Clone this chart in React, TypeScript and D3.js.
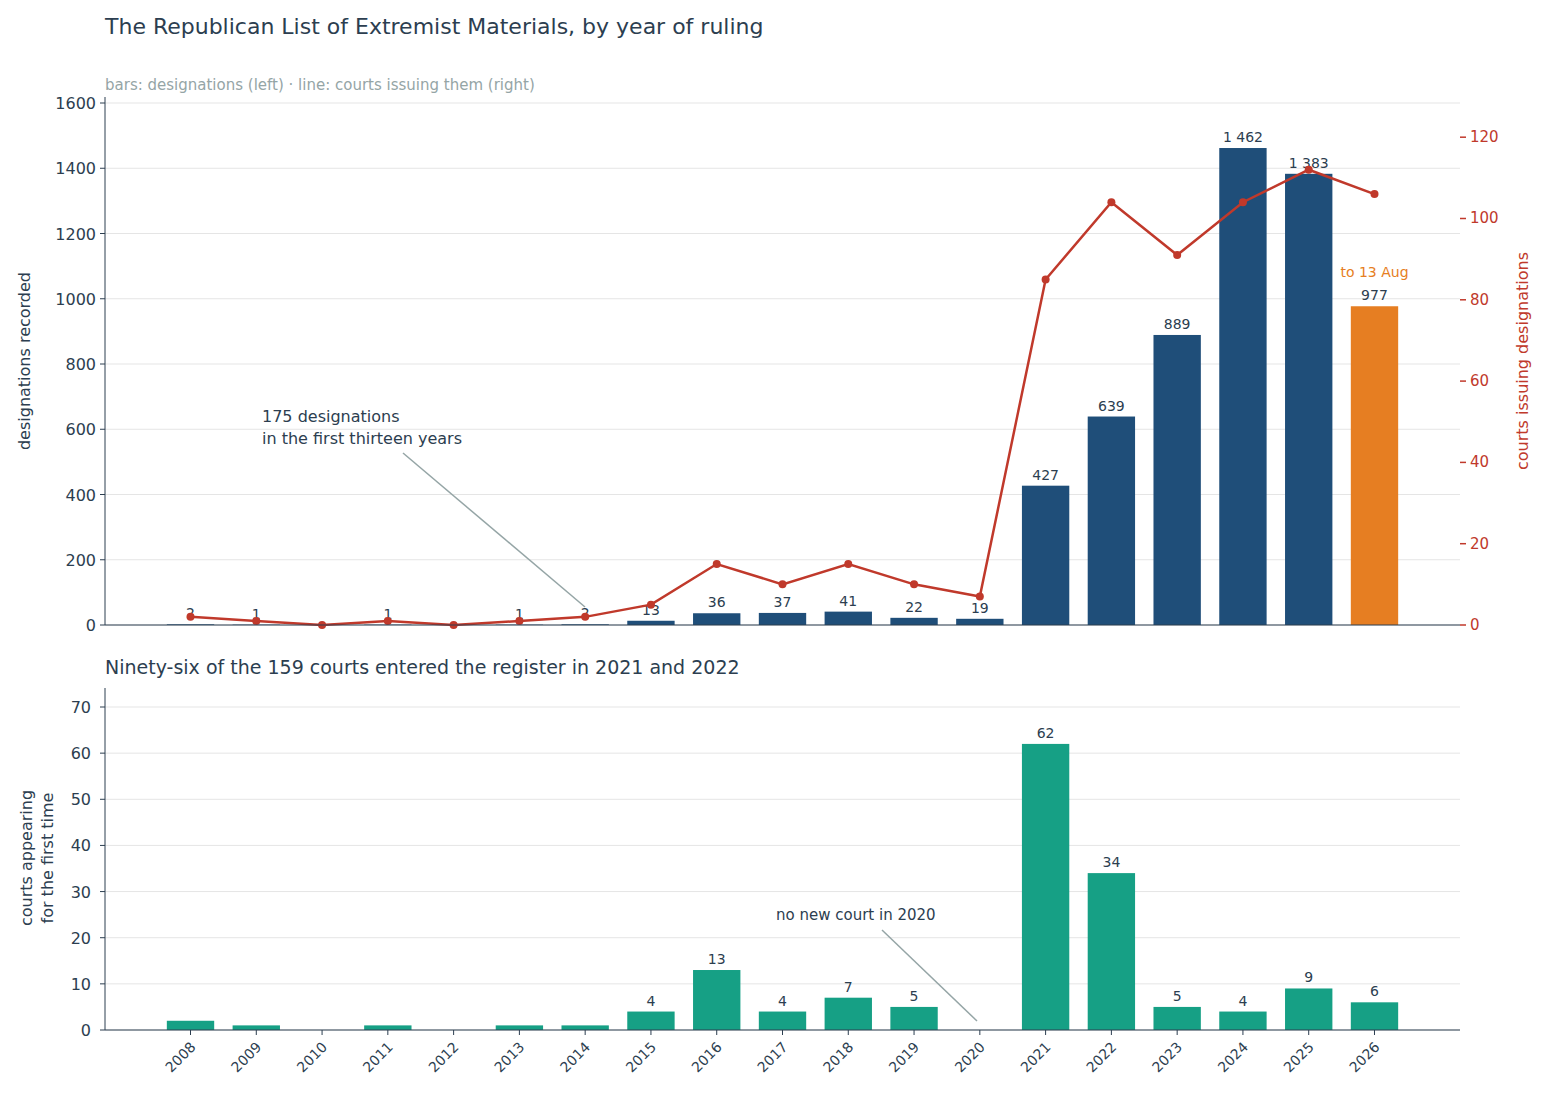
import React from "react";
import * as d3 from "d3";

const years = [2008, 2009, 2010, 2011, 2012, 2013, 2014, 2015, 2016, 2017, 2018, 2019, 2020, 2021, 2022, 2023, 2024, 2025, 2026];
const designations = [2, 1, 0, 1, 0, 1, 2, 13, 36, 37, 41, 22, 19, 427, 639, 889, 1462, 1383, 977];
const courts = [2, 1, 0, 1, 0, 1, 2, 5, 15, 10, 15, 10, 7, 85, 104, 91, 104, 112, 106];
const newCourts = [2, 1, 0, 1, 0, 1, 1, 4, 13, 4, 7, 5, 0, 62, 34, 5, 4, 9, 6];
const leftTicks = [0, 200, 400, 600, 800, 1000, 1200, 1400, 1600];
const rightTicks = [0, 20, 40, 60, 80, 100, 120];
const bottomTicks = [0, 10, 20, 30, 40, 50, 60, 70];

const TEXT = "#2c3e50";
const GRAY = "#95a5a6";
const NAVY = "#1f4e79";
const ORANGE = "#e67e22";
const RED = "#c0392b";
const TEAL = "#16a085";
const GRID = "#e5e5e5";
const FONT = "DejaVu Sans, sans-serif";

const fmt = (v: number) => (v >= 1000 ? d3.format(",")(v).replace(",", " ") : String(v));

export default function App() {
  const W = 1547, H = 1102;
  const L = 105, R = 1460;
  const x = d3.scaleBand<number>().domain(years).range([L, R]).paddingInner(0.28).paddingOuter(0.94);
  const cx = (y: number) => (x(y) as number) + x.bandwidth() / 2;

  const yT = d3.scaleLinear().domain([0, 1600]).range([625, 103]);
  const yR = d3.scaleLinear().domain([0, 1600 / 12.46]).range([625, 103]);
  const yB = d3.scaleLinear().domain([0, 70]).range([1030, 707]);

  const line = d3.line<number>().x((_, i) => cx(years[i])).y((d) => yR(d));

  return (
    <svg width={W} height={H} style={{ position: "absolute", left: 0, top: 0 }} fontFamily={FONT}>
      <text x={105} y={34} fontSize={22} fill={TEXT}>The Republican List of Extremist Materials, by year of ruling</text>
      <text x={105} y={90} fontSize={15} fill={GRAY}>bars: designations (left)   ·   line: courts issuing them (right)</text>

      {/* top grid */}
      {leftTicks.map((t) => (
        <line key={"g" + t} x1={L} x2={R} y1={yT(t)} y2={yT(t)} stroke={GRID} />
      ))}
      {years.map((yr, i) => (
        <rect key={"b" + yr} x={x(yr)} width={x.bandwidth()} y={yT(designations[i])}
          height={yT(0) - yT(designations[i])} fill={yr === 2026 ? ORANGE : NAVY} />
      ))}
      {years.map((yr, i) => designations[i] > 0 ? (
        <text key={"l" + yr} x={cx(yr)} y={yT(designations[i]) - 6} fontSize={14} fill={TEXT} textAnchor="middle">{fmt(designations[i])}</text>
      ) : null)}
      <text x={cx(2026)} y={yT(977) - 29} fontSize={14} fill={ORANGE} textAnchor="middle">to 13 Aug</text>
      <path d={line(courts) || ""} fill="none" stroke={RED} strokeWidth={2.5} />
      {courts.map((c, i) => <circle key={"c" + i} cx={cx(years[i])} cy={yR(c)} r={4} fill={RED} />)}

      {/* left axis */}
      <line x1={L} x2={L} y1={97} y2={625} stroke={TEXT} />
      <line x1={L} x2={R} y1={625} y2={625} stroke={TEXT} />
      {leftTicks.map((t) => (
        <g key={"lt" + t}>
          <line x1={L - 5} x2={L} y1={yT(t)} y2={yT(t)} stroke={TEXT} />
          <text x={L - 9} y={yT(t) + 6} fontSize={16} fill={TEXT} textAnchor="end">{t}</text>
        </g>
      ))}
      <text transform={`translate(30,361) rotate(-90)`} fontSize={16} fill={TEXT} textAnchor="middle">designations recorded</text>
      {rightTicks.map((t) => (
        <g key={"rt" + t}>
          <line x1={R} x2={R + 6} y1={yR(t)} y2={yR(t)} stroke={RED} strokeWidth={1.5} />
          <text x={R + 10} y={yR(t) + 5} fontSize={15} fill={RED}>{t}</text>
        </g>
      ))}
      <text transform={`translate(1528,361) rotate(-90)`} fontSize={16} fill={RED} textAnchor="middle">courts issuing designations</text>

      <text x={262} y={422} fontSize={16} fill={TEXT}>175 designations</text>
      <text x={262} y={444} fontSize={16} fill={TEXT}>in the first thirteen years</text>
      <line x1={403} y1={453} x2={585} y2={607} stroke={GRAY} strokeWidth={1.5} />

      {/* bottom */}
      <text x={105} y={674} fontSize={19} fill={TEXT}>Ninety-six of the 159 courts entered the register in 2021 and 2022</text>
      {bottomTicks.map((t) => (
        <line key={"bg" + t} x1={L} x2={R} y1={yB(t)} y2={yB(t)} stroke={GRID} />
      ))}
      {years.map((yr, i) => (
        <rect key={"nb" + yr} x={x(yr)} width={x.bandwidth()} y={yB(newCourts[i])}
          height={yB(0) - yB(newCourts[i])} fill={TEAL} />
      ))}
      {years.map((yr, i) => yr >= 2015 && newCourts[i] > 0 ? (
        <text key={"nl" + yr} x={cx(yr)} y={yB(newCourts[i]) - 6} fontSize={14} fill={TEXT} textAnchor="middle">{newCourts[i]}</text>
      ) : null)}
      <line x1={L} x2={L} y1={688} y2={1030} stroke={TEXT} />
      <line x1={L} x2={R} y1={1030} y2={1030} stroke={TEXT} />
      {bottomTicks.map((t) => (
        <g key={"bt" + t}>
          <line x1={L - 5} x2={L} y1={yB(t)} y2={yB(t)} stroke={TEXT} />
          <text x={L - 14} y={yB(t) + 6} fontSize={16} fill={TEXT} textAnchor="end">{t}</text>
        </g>
      ))}
      <text transform={`translate(32,858) rotate(-90)`} fontSize={16} fill={TEXT} textAnchor="middle">courts appearing</text>
      <text transform={`translate(53,858) rotate(-90)`} fontSize={16} fill={TEXT} textAnchor="middle">for the first time</text>
      {years.map((yr) => (
        <g key={"xt" + yr}>
          <line x1={cx(yr)} x2={cx(yr)} y1={1030} y2={1035} stroke={TEXT} />
          <text transform={`translate(${cx(yr) + 6},1048) rotate(-45)`} fontSize={14} fill={TEXT} textAnchor="end">{yr}</text>
        </g>
      ))}
      <text x={776} y={920} fontSize={15} fill={TEXT}>no new court in 2020</text>
      <line x1={882} y1={930} x2={977} y2={1021} stroke={GRAY} strokeWidth={1.5} />
    </svg>
  );
}
